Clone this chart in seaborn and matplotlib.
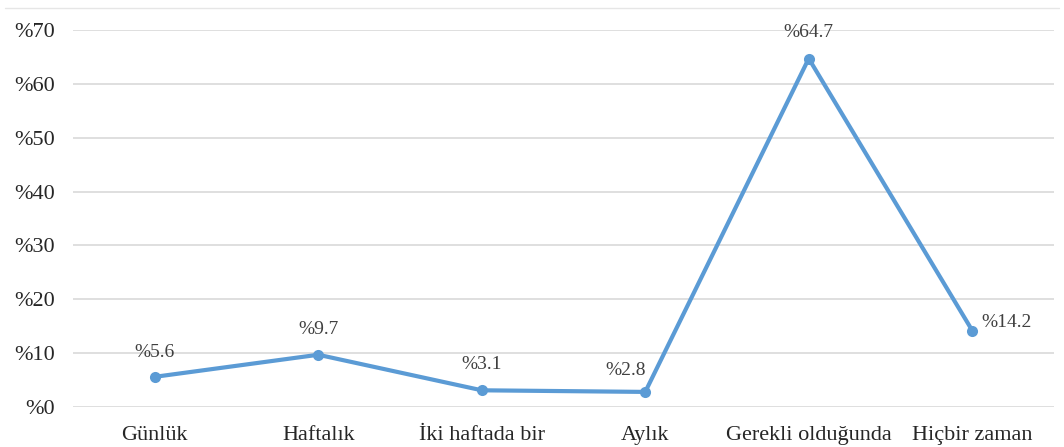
import matplotlib
matplotlib.use("Agg")
import matplotlib.pyplot as plt
import seaborn as sns
import pandas as pd

categories = ["Günlük", "Haftalık", "İki haftada bir", "Aylık", "Gerekli olduğunda", "Hiçbir zaman"]
values = [5.6, 9.7, 3.1, 2.8, 64.7, 14.2]
yticks = [0, 10, 20, 30, 40, 50, 60, 70]
ytick_labels = ["%0", "%10", "%20", "%30", "%40", "%50", "%60", "%70"]
point_labels = ["%5.6", "%9.7", "%3.1", "%2.8", "%64.7", "%14.2"]

# label placement (pixel offsets, style only)
label_offsets = [(0, 24), (0, 25), (0, 26), (-20, 21), (0, 26), (34, 8)]

sns.set_theme(style="white")
plt.rcParams["font.family"] = ["Liberation Serif", "DejaVu Serif"]

df = pd.DataFrame({"cat": categories, "val": values})

fig = plt.figure(figsize=(10.64, 4.47), dpi=100)
ax = fig.add_axes([0.0686, 0.0895, 0.9220, 0.8434])

line_color = "#5B9BD5"
sns.lineplot(data=df, x="cat", y="val", ax=ax, color=line_color, linewidth=3.0,
             marker="o", markersize=8, markeredgewidth=0, sort=False)

ax.set_xlim(-0.5, len(categories) - 0.5)
ax.set_ylim(0, 70)
ax.set_yticks(yticks)
ax.set_yticklabels(ytick_labels)
ax.set_xlabel("")
ax.set_ylabel("")
ax.yaxis.grid(True, color="#D9D9D9", linewidth=1.2)
ax.set_axisbelow(True)
for s in ax.spines.values():
    s.set_visible(False)
ax.tick_params(axis="y", length=0, pad=13, labelsize=16, colors="#262626")
ax.tick_params(axis="x", length=0, pad=14, labelsize=16, colors="#262626")

for i, (v, lab) in enumerate(zip(values, point_labels)):
    dx, dy = label_offsets[i]
    ax.annotate(lab, xy=(i, v), xytext=(dx, dy), textcoords="offset pixels",
                ha="center", va="center", fontsize=14, color="#404040")

# faint top border line
fig.add_artist(plt.Line2D([0.005, 0.995], [1 - 8 / 447, 1 - 8 / 447],
                          transform=fig.transFigure, color="#E6E6E6", linewidth=1))

fig.savefig("out.png", dpi=100)
